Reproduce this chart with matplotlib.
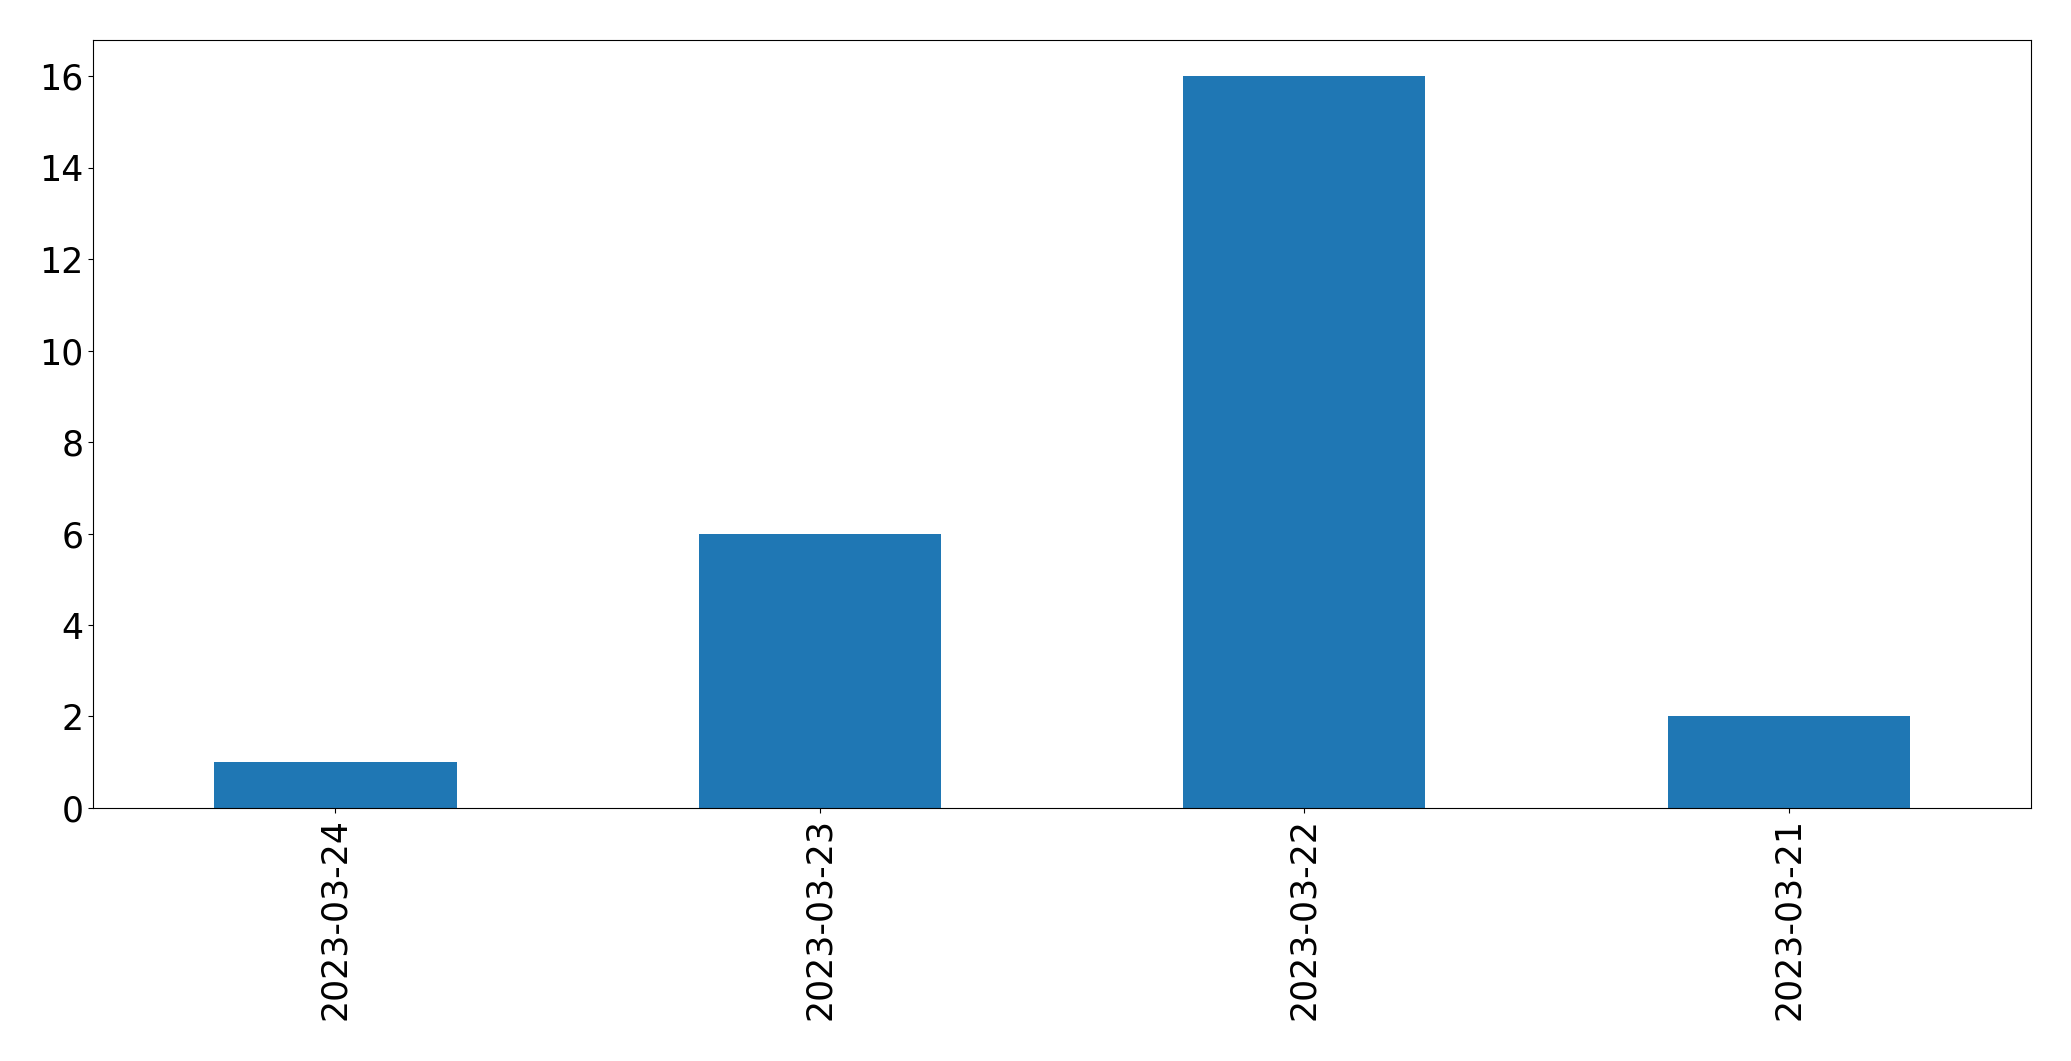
import matplotlib
matplotlib.use("Agg")
import matplotlib.pyplot as plt
import numpy as np

dates = ["2023-03-24", "2023-03-23", "2023-03-22", "2023-03-21"]
counts = [1, 6, 16, 2]

fig = plt.figure(figsize=(20.71, 10.61), dpi=100)
ax = fig.add_axes([0.0450, 0.2385, 0.9357, 0.7242])
x = np.arange(len(dates))
ax.bar(x, counts, width=0.5, color="#1f77b4")
ax.set_xlim(-0.5, len(dates) - 0.5)
ax.set_ylim(0, max(counts) * 1.05)
ax.set_xticks(x)
ax.set_xticklabels(dates, rotation=90)
ax.tick_params(labelsize=25)
fig.savefig("out.png", dpi=100)
